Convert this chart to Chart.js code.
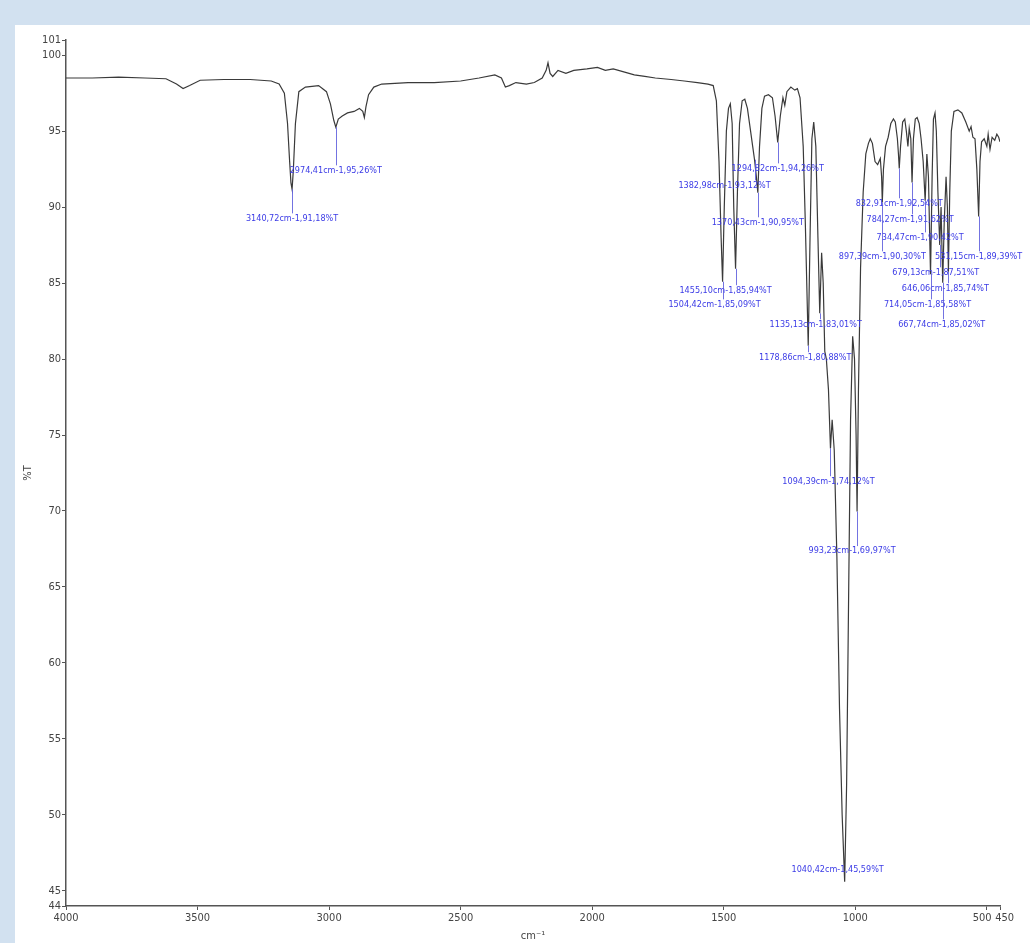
<!DOCTYPE html>
<html>
<head>
<meta charset="utf-8">
<script src="https://cdn.jsdelivr.net/npm/chart.js@4.4.1/dist/chart.umd.min.js"></script>
<style>
  html, body { margin: 0; padding: 0; background: #d2e1f0; width: 1030px; height: 943px; overflow: hidden; }
  #panel { position: absolute; left: 15px; top: 25px; width: 1015px; height: 918px; background: #fff; }
  #chart { position: absolute; left: 0; top: 0; }
</style>
</head>
<body>
<div id="panel"></div>
<canvas id="chart" width="1030" height="943"></canvas>
<script>
/* ── Data ─────────────────────────────────────────────────────────────── */
const wavenumbers = [
  4000, 3900, 3800, 3700, 3620, 3580, 3555, 3530, 3490, 3400, 3300, 3220, 3190, 3170, 3158, 3150, 3145,
  3140.72, 3136, 3128, 3115, 3090, 3040, 3010, 2995, 2982, 2974.41, 2965, 2950, 2930, 2905, 2885, 2872,
  2866, 2860, 2850, 2830, 2800, 2700, 2600, 2500, 2430, 2370, 2345, 2330, 2315, 2290, 2250, 2220, 2190,
  2175, 2168, 2160, 2150, 2130, 2100, 2070, 2020, 1980, 1950, 1920, 1880, 1840, 1800, 1760, 1700, 1650,
  1600, 1560, 1540, 1528, 1518, 1510, 1504.42, 1498, 1490, 1482, 1475, 1468, 1462, 1455.10, 1448, 1440,
  1430, 1420, 1410, 1398, 1390, 1382.98, 1376, 1370.43, 1364, 1355, 1345, 1330, 1315, 1305, 1294.82,
  1285, 1275, 1268, 1260, 1245, 1230, 1220, 1210, 1198, 1190, 1178.86, 1172, 1165, 1158, 1150, 1142,
  1135.13, 1128, 1122, 1116, 1110, 1102, 1094.39, 1088, 1080, 1070, 1060, 1050, 1040.42, 1033, 1025,
  1018, 1010, 1003, 997, 993.23, 988, 980, 970, 960, 950, 943, 935, 925, 915, 905, 900, 897.39, 893,
  885, 875, 865, 855, 848, 840, 836, 832.91, 828, 820, 812, 806, 800, 795, 789, 784.27, 779, 772, 765,
  757, 750, 742, 734.47, 728, 722, 714.05, 708, 703, 697, 692, 686, 679.13, 674, 667.74, 662, 655, 650,
  646.06, 641, 635, 625, 610, 595, 580, 567, 560, 553, 545, 538, 531.15, 526, 520, 510, 500, 495, 488,
  480, 470, 462, 455, 450
];
const transmittance = [
  98.5, 98.5, 98.55, 98.5, 98.45, 98.1, 97.8, 98.0, 98.35, 98.4, 98.4, 98.3, 98.1, 97.5, 95.5, 93.0, 91.6,
  91.18, 92.4, 95.5, 97.6, 97.9, 98.0, 97.6, 96.8, 95.7, 95.26, 95.8, 96.0, 96.2, 96.3, 96.5, 96.3,
  95.9, 96.6, 97.4, 97.9, 98.1, 98.2, 98.2, 98.3, 98.5, 98.7, 98.5, 97.9, 98.0, 98.2, 98.1, 98.2, 98.5,
  99.0, 99.5, 98.8, 98.6, 99.0, 98.8, 99.0, 99.1, 99.2, 99.0, 99.1, 98.9, 98.7, 98.6, 98.5, 98.4, 98.3,
  98.2, 98.1, 98.0, 97.0, 93.0, 88.0, 85.09, 90.0, 95.0, 96.5, 96.8, 95.5, 90.0, 85.94, 91.0, 95.5,
  97.0, 97.1, 96.5, 95.0, 94.0, 93.12, 92.0, 90.95, 94.0, 96.5, 97.3, 97.4, 97.2, 96.0, 94.26,
  96.0, 97.2, 96.7, 97.6, 97.9, 97.7, 97.8, 97.2, 94.0, 89.0, 80.88, 88.0, 94.5, 95.6, 94.0, 88.0,
  83.01, 87.0, 85.0, 80.5, 80.0, 78.0, 74.12, 76.0, 74.0, 67.0, 57.0, 50.0, 45.59, 52.0, 65.0,
  76.0, 81.5, 80.0, 75.0, 69.97, 78.0, 86.0, 91.0, 93.5, 94.2, 94.5, 94.2, 93.0, 92.8, 93.2, 92.0, 90.30, 92.5,
  94.0, 94.6, 95.5, 95.8, 95.6, 94.5, 93.5, 92.54, 94.0, 95.6, 95.8, 95.0, 94.0, 95.2, 94.5, 91.62, 94.5, 95.8, 95.9,
  95.5, 94.5, 93.0, 90.42, 93.5, 92.0, 85.58, 92.0, 95.8, 96.2, 95.0, 91.0, 87.51, 90.0, 85.02, 89.0, 92.0, 90.0,
  85.74, 91.0, 95.0, 96.3, 96.4, 96.2, 95.6, 95.0, 95.3, 94.6, 94.5, 92.5, 89.39, 93.0, 94.3, 94.5, 94.0, 94.8, 93.8,
  94.6, 94.4, 94.8, 94.6, 94.3
];

const xTicks = [4000, 3500, 3000, 2500, 2000, 1500, 1000, 500, 450];
const yTicks = [44, 45, 50, 55, 60, 65, 70, 75, 80, 85, 90, 95, 100, 101];

// picked peaks: wavenumber, %T, printed label
const peakWn = [3140.72, 2974.41, 1294.82, 1382.98, 1370.43, 1455.10, 1504.42, 1135.13, 1178.86, 1094.39,
  993.23, 1040.42, 832.91, 784.27, 734.47, 897.39, 531.15, 679.13, 646.06, 714.05, 667.74];
const peakT = [91.18, 95.26, 94.26, 93.12, 90.95, 85.94, 85.09, 83.01, 80.88, 74.12,
  69.97, 45.59, 92.54, 91.62, 90.42, 90.30, 89.39, 87.51, 85.74, 85.58, 85.02];
const peakText = peakWn.map((w, i) =>
  w.toFixed(2).replace('.', ',') + 'cm-1,' + peakT[i].toFixed(2).replace('.', ',') + '%T');

// label placement: text row (in %T) and horizontal shift (px) from the peak
const labelRowT = [89.26, 92.42, 92.55, 91.43, 89.0, 84.53, 83.6, 82.29, 80.12, 71.96,
  67.36, 46.37, 90.25, 89.2, 88.01, 86.76, 86.76, 85.71, 84.66, 83.6, 82.29];
const labelShift = [0, 0, 0, -30, 0, -10, -8, -4, -3, -2, -5, -7, 0, -2, -5, 0, 0, -4, -3, -3, -1];

/* ── Peak label plugin ────────────────────────────────────────────────── */
const peakLabels = {
    id: 'peakLabels',
    afterDatasetsDraw(chart) {
        const { ctx, scales: { x, y } } = chart;
        ctx.save();
        ctx.font = "9px 'Liberation Sans Narrow', 'DejaVu Sans Condensed', sans-serif";
        ctx.textAlign = 'center';
        ctx.textBaseline = 'middle';
        peakWn.forEach((w, i) => {
            const px = x.getPixelForValue(w);
            const tipY = y.getPixelForValue(peakT[i]);
            const ty = y.getPixelForValue(labelRowT[i]);
            if (ty > tipY) {
                ctx.strokeStyle = 'rgba(90, 90, 220, 0.85)';
                ctx.lineWidth = 1;
                ctx.beginPath();
                ctx.moveTo(Math.round(px) + 0.5, tipY);
                ctx.lineTo(Math.round(px) + 0.5, ty - 5);
                ctx.stroke();
            }
            ctx.fillStyle = '#3b3be6';
            ctx.fillText(peakText[i], px + labelShift[i], ty);
        });
        ctx.restore();
    },
};

const tickFont = { family: "'Liberation Sans Narrow', 'DejaVu Sans Condensed', sans-serif", size: 11 };

new Chart(document.getElementById('chart'), {
    type: 'scatter',
    data: {
        datasets: [{
            data: wavenumbers.map((w, i) => ({ x: w, y: transmittance[i] })),
            showLine: true,
            borderColor: '#3a3a3a',
            borderWidth: 1.2,
            pointRadius: 0,
            tension: 0,
        }],
    },
    options: {
        responsive: false,
        animation: false,
        layout: { padding: { left: 22, top: 40, right: 30, bottom: 0 } },
        scales: {
            x: {
                type: 'linear',
                reverse: true,
                min: 450,
                max: 4000,
                afterBuildTicks: s => { s.ticks = xTicks.map(v => ({ value: v })); },
                afterFit: s => { s.height = 37; },
                ticks: {
                    autoSkip: false,
                    maxRotation: 0,
                    color: '#444',
                    font: tickFont,
                    padding: 2,
                    // nudge the two crowded end labels apart
                    callback: v => v === 500 ? '500   ' : v === 450 ? '   450' : String(v),
                },
                grid: { drawOnChartArea: false, tickLength: 4, color: '#555' },
                border: { color: '#555', width: 1.5 },
                title: { display: true, text: 'cm⁻¹', color: '#444', font: tickFont, padding: 0 },
            },
            y: {
                min: 44,
                max: 101,
                afterBuildTicks: s => { s.ticks = yTicks.map(v => ({ value: v })); },
                afterFit: s => { s.width = 44; },
                ticks: { autoSkip: false, color: '#444', font: tickFont, padding: 1 },
                grid: { drawOnChartArea: false, tickLength: 4, color: '#555' },
                border: { color: '#555', width: 1.5 },
                title: { display: true, text: '%T', color: '#444', font: tickFont, padding: 0 },
            },
        },
        plugins: {
            legend: { display: false },
            tooltip: { enabled: false },
        },
    },
    plugins: [peakLabels],
});
</script>
</body>
</html>
